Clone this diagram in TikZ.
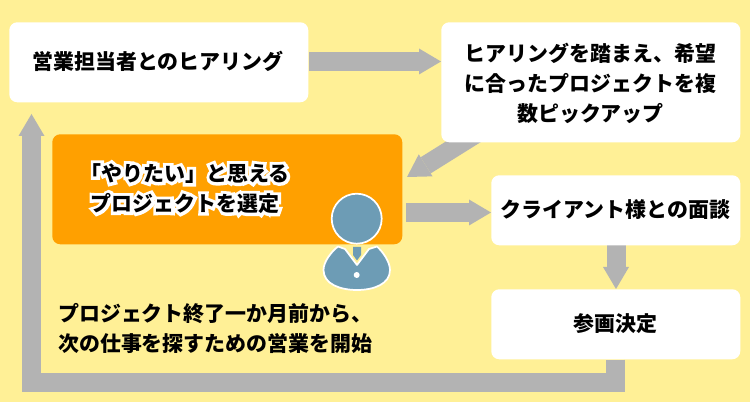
\documentclass[tikz,border=0pt]{standalone}
\usepackage{fontspec}
\setmainfont{Noto Sans CJK JP}
\newfontfamily\halofont{Noto Sans CJK JP}[BoldFeatures={FakeBold=30}]
\usetikzlibrary{arrows.meta}
\pgfdeclarelayer{bg}
\pgfsetlayers{bg,main}
\definecolor{bgy}{HTML}{FFF096}
\definecolor{org}{HTML}{FFA000}
\definecolor{gry}{HTML}{B3B3B3}
\definecolor{blu}{HTML}{6D9CB5}
\newcommand\halotext[1]{\makebox[0pt][l]{\color{white}\halofont\bfseries #1}#1}
\setlength\normallineskiplimit{-20pt}
\setlength\lineskiplimit{-20pt}
\newcommand\lblfont{\fontsize{15.7pt}{22.5pt}\selectfont\bfseries}
\tikzset{
  lbl/.style={font=\lblfont,text=black,align=center,inner sep=0pt},
  card/.style={fill=white,rounded corners=6pt,draw=none,inner sep=0pt,anchor=north west},
  fat/.style={draw=gry,line width=14.25pt,line join=miter,-{Triangle[width=19.5pt,length=16.5pt,line width=0pt 0 0]}},
  person/.style={fill=blu,draw=white,line width=1.3pt,line join=round}
}
\begin{document}
\begin{tikzpicture}[x=0.75pt,y=-0.75pt]
\useasboundingbox (0,0) rectangle (750,402);
% boxes
\node[card,minimum width=224.25pt,minimum height=60pt] (hear) at (9,22) {};
\node[card,minimum width=224.25pt,minimum height=90pt] (pick) at (441,22) {};
\node[card,fill=org,minimum width=262.5pt,minimum height=82.5pt] (sel) at (52,134) {};
\node[card,minimum width=186.75pt,minimum height=52.5pt] (meet) at (491,175) {};
\node[card,minimum width=186.75pt,minimum height=52.5pt] (dec) at (491,289) {};
% named free ends
\coordinate (diagS) at (479,132);
\coordinate (diagE) at (407,177);
\coordinate (backT) at (31.5,114);
\coordinate (backC) at (31.5,383);
\coordinate (backR) at (615.5,383);
\coordinate (topL) at (309,61.5);
\coordinate (midL) at (406,212.5);
\coordinate (downT) at (616,245);
% connectors
\begin{pgfonlayer}{bg}
\fill[bgy] (0,0) rectangle (750,402);
\draw[fat] (topL) -- (pick.west |- topL);
\draw[fat] (midL) -- (meet.west |- midL);
\draw[fat] (downT) -- (dec.north -| downT);
\draw[fat] (dec.south -| backR) -- (backR) -- (backC) -- (backT);
\draw[fat] (diagS) -- (diagE);
\end{pgfonlayer}
% labels
\node[lbl] (t1) at (158,61.5) {営業担当者とのヒアリング};
\node[lbl] (t2) at (590.5,83) {ヒアリングを踏まえ、希望\\に合ったプロジェクトを複\\数ピックアップ};
\node[lbl] (t3) at (185,188.5) {\halotext{「やりたい」と思える}\\\halotext{プロジェクトを選定}};
\node[lbl] (t4) at (615.5,210) {クライアント様との面談};
\node[lbl] (t5) at (615.5,324) {参画決定};
\node[lbl,align=left,anchor=west] (t6) at (58,328) {プロジェクト終了一か月前から、\\次の仕事を探すための営業を開始};
% person
\path[person] (338,246.5) .. controls (331,252) and (323.5,262) .. (323.5,270)
  .. controls (323.5,284) and (340,290) .. (357,290)
  .. controls (374,290) and (390,284) .. (390,270)
  .. controls (390,262) and (383,252) .. (377,246.5)
  -- (369,249) -- (357,265) -- (345,249) -- cycle;
\path[fill=blu] (353,247) -- (361,247) -- (361,255) -- (357,260.5) -- (353,255) -- cycle;
\node[circle,fill=white,minimum size=4.5pt,inner sep=0pt] (btn) at (356.7,275) {};
\node[circle,person,minimum size=37.5pt,inner sep=0pt] (head) at (356.7,218.7) {};
\end{tikzpicture}
\end{document}
